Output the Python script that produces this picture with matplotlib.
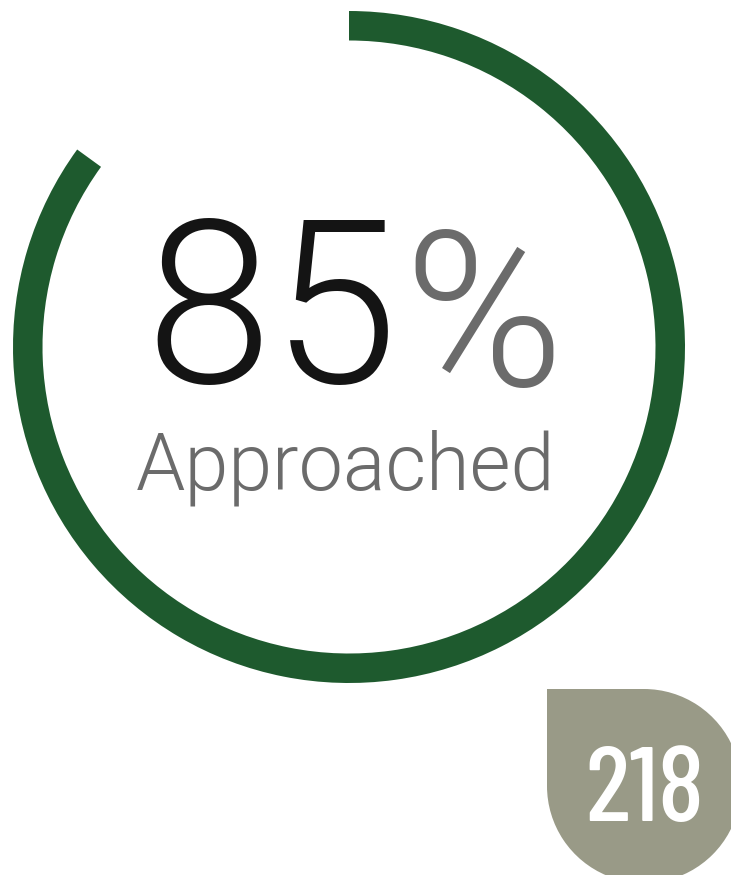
import matplotlib.pyplot as plt
from matplotlib.patches import Wedge, Rectangle

# donnees
pourcentage = 85
libelle = "Approached"
nombre = 218

vert = "#1e5a2e"
gris_badge = "#999a87"
gris_texte = "#6b6b6b"

W, H = 731, 875
fig = plt.figure(figsize=(W / 100, H / 100), dpi=100)
ax = fig.add_axes([0, 0, 1, 1])
ax.set_xlim(0, W)
ax.set_ylim(0, H)
ax.set_aspect("equal")
ax.axis("off")

# anneau (depart en haut, sens horaire)
cx, cy = 349, H - 347
angle = 360 * pourcentage / 100
ax.add_patch(Wedge((cx, cy), 336, 90 - angle, 90, width=29.5, color=vert, lw=0))

# textes centraux
police = ["Roboto", "Liberation Sans"]
ax.text(272, H - 383, str(pourcentage), ha="center", va="baseline",
        fontsize=164, color="#141414", family=police, weight=300)
ax.text(483, H - 386, "%", ha="center", va="baseline",
        fontsize=156, color=gris_texte, family=police, weight=300)
ax.text(346, H - 490, libelle, ha="center", va="baseline",
        fontsize=57, color=gris_texte, family=police, weight=300)

# badge en goutte (coin haut-gauche carre)
bx, by, r = 644, H - 786, 97
ax.add_patch(Wedge((bx, by), r, 180, 90, color=gris_badge, lw=0))
ax.add_patch(Rectangle((bx - r, by - 0.5), r + 0.5, r + 0.5, color=gris_badge, lw=0))
ax.text(bx + 1, H - 821, str(nombre), ha="center", va="baseline",
        fontsize=77, color="white", family=["Barlow Condensed", "Liberation Sans"], weight=500)

plt.savefig("out.png", dpi=100)
